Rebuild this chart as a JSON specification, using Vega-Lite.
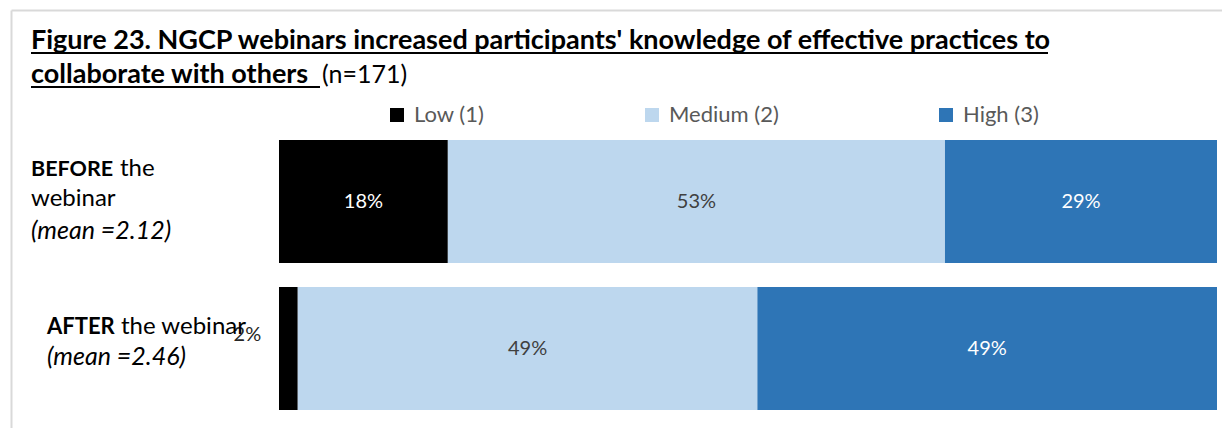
{
  "$schema": "https://vega.github.io/schema/vega-lite/v6.json",
  "width": 1211,
  "height": 418,
  "autosize": {"type": "none"},
  "padding": {"left": 11, "top": 10, "right": 0, "bottom": 0},
  "background": "white",
  "config": {"view": {"stroke": null}, "font": "Lato", "text": {"font": "Lato"}},
  "data": {
    "values": [
      {"row": "BEFORE the webinar", "level": "Low (1)", "order": 1, "pct": 0.18},
      {"row": "BEFORE the webinar", "level": "Medium (2)", "order": 2, "pct": 0.53},
      {"row": "BEFORE the webinar", "level": "High (3)", "order": 3, "pct": 0.29},
      {"row": "AFTER the webinar", "level": "Low (1)", "order": 1, "pct": 0.02},
      {"row": "AFTER the webinar", "level": "Medium (2)", "order": 2, "pct": 0.49},
      {"row": "AFTER the webinar", "level": "High (3)", "order": 3, "pct": 0.49}
    ]
  },
  "layer": [
    {
      "mark": {"type": "bar"},
      "encoding": {
        "x": {
          "field": "pct", "type": "quantitative", "stack": "zero",
          "scale": {"domain": [-0.28571, 1.00533], "nice": false, "zero": false},
          "axis": {"orient": "top", "domain": true, "domainColor": "#d9d9d9", "domainWidth": 2, "ticks": false, "labels": false, "grid": false, "title": null}
        },
        "y": {
          "field": "row", "type": "nominal",
          "scale": {"domain": ["BEFORE the webinar", "AFTER the webinar"], "paddingInner": 0.16327, "paddingOuter": 0.5034, "align": 0.8784},
          "axis": {"orient": "left", "domain": true, "domainColor": "#d9d9d9", "domainWidth": 2, "ticks": false, "labels": false, "grid": false, "title": null}
        },
        "color": {
          "field": "level", "type": "nominal",
          "scale": {"domain": ["Low (1)", "Medium (2)", "High (3)"], "range": ["#000000", "#bdd7ee", "#2e75b6"]},
          "legend": {
            "orient": "none", "legendX": 375, "legendY": 94, "direction": "horizontal", "title": null,
            "symbolType": "square", "symbolSize": 196, "symbolStrokeWidth": 0, "symbolOpacity": 1,
            "labelFontSize": 22, "labelColor": "#595959", "labelFont": "Lato", "labelOffset": 6,
            "columnPadding": 156, "padding": 0
          }
        },
        "order": {"field": "order", "type": "quantitative"}
      }
    },
    {
      "transform": [
        {"stack": "pct", "groupby": ["row"], "sort": [{"field": "order", "order": "ascending"}], "as": ["x0", "x1"]},
        {"fold": ["x0", "x1"], "as": ["k", "v"]},
        {"aggregate": [{"op": "mean", "field": "v", "as": "mid"}], "groupby": ["row", "level", "pct"]},
        {"filter": "datum.pct >= 0.05"}
      ],
      "mark": {"type": "text", "fontSize": 20, "font": "Lato"},
      "encoding": {
        "x": {"field": "mid", "type": "quantitative"},
        "y": {"field": "row", "type": "nominal"},
        "text": {"field": "pct", "type": "quantitative", "format": ".0%"},
        "color": {"condition": {"test": "datum.level === 'Medium (2)'", "value": "#404040"}, "value": "#ffffff"}
      }
    },
    {
      "transform": [
        {"stack": "pct", "groupby": ["row"], "sort": [{"field": "order", "order": "ascending"}], "as": ["x0", "x1"]},
        {"fold": ["x0", "x1"], "as": ["k", "v"]},
        {"aggregate": [{"op": "mean", "field": "v", "as": "mid"}], "groupby": ["row", "level", "pct"]},
        {"filter": "datum.pct < 0.05"}
      ],
      "mark": {"type": "text", "fontSize": 20, "font": "Lato", "dx": -41, "dy": -14, "color": "#262626"},
      "encoding": {
        "x": {"field": "mid", "type": "quantitative"},
        "y": {"field": "row", "type": "nominal"},
        "text": {"field": "pct", "type": "quantitative", "format": ".0%"}
      }
    },
    {
      "data": {"values": [{"t": "Figure 23. NGCP webinars increased participants' knowledge of effective practices to"}]},
      "mark": {"type": "text", "align": "left", "baseline": "alphabetic", "fontSize": 27, "fontWeight": "bold", "color": "#000000", "dy": -152.5},
      "encoding": {"x": {"datum": -0.26439}, "y": {"datum": "BEFORE the webinar"}, "text": {"field": "t"}}
    },
    {
      "data": {"values": [{"t": "collaborate with others"}]},
      "mark": {"type": "text", "align": "left", "baseline": "alphabetic", "fontSize": 27, "fontWeight": "bold", "color": "#000000", "dy": -118.5},
      "encoding": {"x": {"datum": -0.26439}, "y": {"datum": "BEFORE the webinar"}, "text": {"field": "t"}}
    },
    {
      "data": {"values": [{"t": "(n=171)"}]},
      "mark": {"type": "text", "align": "left", "baseline": "alphabetic", "fontSize": 25, "color": "#000000", "dy": -118.5},
      "encoding": {"x": {"datum": 0.04584}, "y": {"datum": "BEFORE the webinar"}, "text": {"field": "t"}}
    },
    {
      "data": {"values": [{"t": "underline"}]},
      "mark": {"type": "rule", "color": "#000000", "strokeWidth": 2, "yOffset": -148.5},
      "encoding": {"x": {"datum": -0.26439}, "x2": {"datum": 0.81983}, "y": {"datum": "BEFORE the webinar"}}
    },
    {
      "data": {"values": [{"t": "underline"}]},
      "mark": {"type": "rule", "color": "#000000", "strokeWidth": 2, "yOffset": -114.5},
      "encoding": {"x": {"datum": -0.26439}, "x2": {"datum": 0.04371}, "y": {"datum": "BEFORE the webinar"}}
    },
    {
      "data": {"values": [{"t": "BEFORE"}]},
      "mark": {"type": "text", "align": "left", "baseline": "alphabetic", "fontSize": 21.5, "fontWeight": "bold", "color": "#000000", "dy": -25.5},
      "encoding": {"x": {"datum": -0.26439}, "y": {"datum": "BEFORE the webinar"}, "text": {"field": "t"}}
    },
    {
      "data": {"values": [{"t": "the"}]},
      "mark": {"type": "text", "align": "left", "baseline": "alphabetic", "fontSize": 24, "color": "#000000", "dy": -25.5},
      "encoding": {"x": {"datum": -0.16951}, "y": {"datum": "BEFORE the webinar"}, "text": {"field": "t"}}
    },
    {
      "data": {"values": [{"t": "webinar"}]},
      "mark": {"type": "text", "align": "left", "baseline": "alphabetic", "fontSize": 24, "color": "#000000", "dy": 4},
      "encoding": {"x": {"datum": -0.26439}, "y": {"datum": "BEFORE the webinar"}, "text": {"field": "t"}}
    },
    {
      "data": {"values": [{"t": "(mean =2.12)"}]},
      "mark": {"type": "text", "align": "left", "baseline": "alphabetic", "fontSize": 25, "fontStyle": "italic", "color": "#000000", "dy": 37},
      "encoding": {"x": {"datum": -0.26439}, "y": {"datum": "BEFORE the webinar"}, "text": {"field": "t"}}
    },
    {
      "data": {"values": [{"t": "AFTER"}]},
      "mark": {"type": "text", "align": "left", "baseline": "alphabetic", "fontSize": 22, "fontWeight": "bold", "color": "#000000", "dy": -14.5},
      "encoding": {"x": {"datum": -0.24733}, "y": {"datum": "AFTER the webinar"}, "text": {"field": "t"}}
    },
    {
      "data": {"values": [{"t": "the webinar"}]},
      "mark": {"type": "text", "align": "left", "baseline": "alphabetic", "fontSize": 24, "color": "#000000", "dy": -14.5},
      "encoding": {"x": {"datum": -0.16844}, "y": {"datum": "AFTER the webinar"}, "text": {"field": "t"}}
    },
    {
      "data": {"values": [{"t": "(mean =2.46)"}]},
      "mark": {"type": "text", "align": "left", "baseline": "alphabetic", "fontSize": 25, "fontStyle": "italic", "color": "#000000", "dy": 16.5},
      "encoding": {"x": {"datum": -0.24733}, "y": {"datum": "AFTER the webinar"}, "text": {"field": "t"}}
    }
  ]
}
